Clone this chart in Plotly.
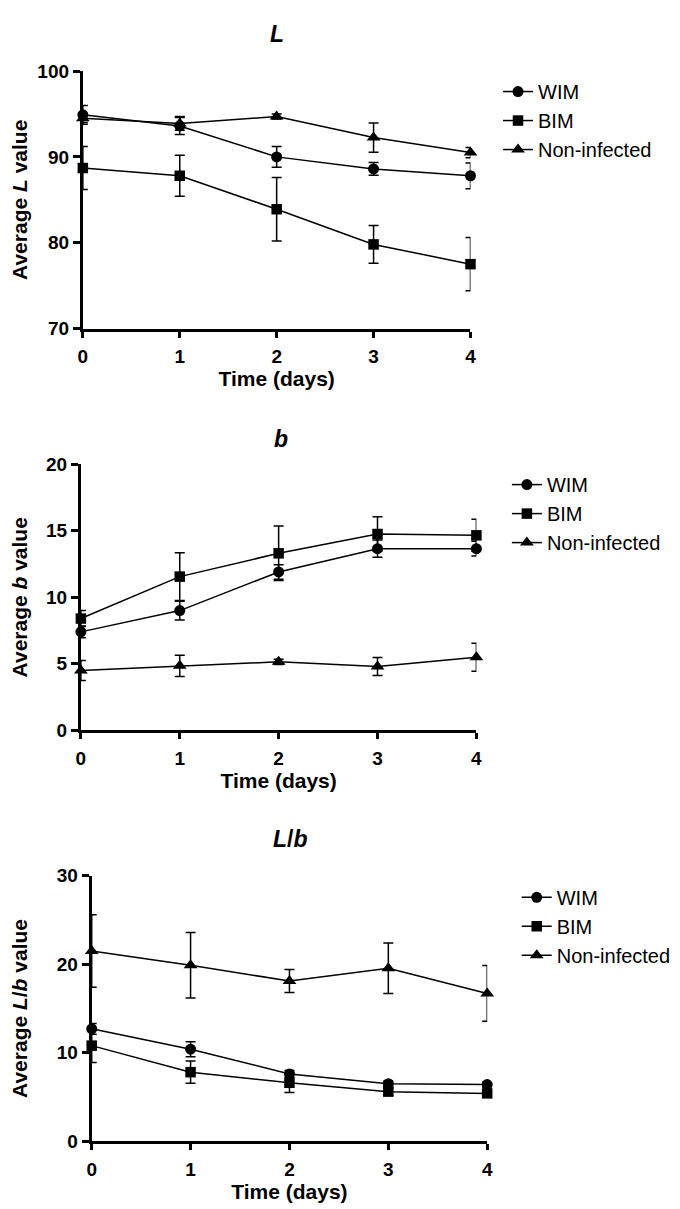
import plotly.graph_objects as go

days = [0, 1, 2, 3, 4]
series_names = ["WIM", "BIM", "Non-infected"]

# Panel 1: L
L_wim = [94.9, 93.6, 90.0, 88.6, 87.8]
L_wim_err = [1.1, 1.0, 1.2, 0.75, 1.5]
L_bim = [88.7, 87.8, 83.9, 79.8, 77.5]
L_bim_err = [2.5, 2.4, 3.7, 2.2, 3.1]
L_ni = [94.5, 93.9, 94.7, 92.25, 90.5]
L_ni_err = [0.5, 0.8, 0.3, 1.7, 0.6]

# Panel 2: b
b_wim = [7.4, 9.0, 11.9, 13.65, 13.65]
b_wim_err = [0.45, 0.7, 0.55, 0.65, 0.55]
b_bim = [8.4, 11.55, 13.3, 14.75, 14.65]
b_bim_err = [0.6, 1.8, 2.05, 1.3, 1.2]
b_ni = [4.5, 4.85, 5.15, 4.8, 5.5]
b_ni_err = [0.75, 0.8, 0.2, 0.68, 1.05]

# Panel 3: L/b
Lb_wim = [12.7, 10.4, 7.6, 6.5, 6.4]
Lb_wim_err = [0.6, 0.85, 0.4, 0.3, 0.3]
Lb_bim = [10.8, 7.8, 6.6, 5.6, 5.4]
Lb_bim_err = [1.9, 1.25, 1.1, 0.4, 0.4]
Lb_ni = [21.5, 19.9, 18.1, 19.55, 16.7]
Lb_ni_err = [4.1, 3.7, 1.3, 2.85, 3.15]

W, H = 680, 1209
FONT = "Liberation Sans, Arial, sans-serif"

panels = [
    dict(title="<b><i>L</i></b>", ytitle="<b>Average <i>L</i> value</b>",
         data=[(L_wim, L_wim_err), (L_bim, L_bim_err), (L_ni, L_ni_err)],
         yrange=[70, 100], dtick=10,
         px=(71, 465), py=(54, 316), title_xy=(268, 16),
         legend_xy=(493, 55), ystand=14),
    dict(title="<b><i>b</i></b>", ytitle="<b>Average <i>b</i> value</b>",
         data=[(b_wim, b_wim_err), (b_bim, b_bim_err), (b_ni, b_ni_err)],
         yrange=[0, 20], dtick=5,
         px=(69, 471), py=(454, 725), title_xy=(272, 428),
         legend_xy=(502, 455), ystand=16),
    dict(title="<b><i>L</i>/<i>b</i></b>", ytitle="<b>Average <i>L</i>/<i>b</i> value</b>",
         data=[(Lb_wim, Lb_wim_err), (Lb_bim, Lb_bim_err), (Lb_ni, Lb_ni_err)],
         yrange=[0, 30], dtick=10,
         px=(80, 482), py=(873, 1143), title_xy=(282, 836),
         legend_xy=(512, 875), ystand=24),
]

symbols = ["circle", "square", "triangle-up"]
sizes = [11, 10.5, 12]

fig = go.Figure()
annotations = []
layout = {}
for i, p in enumerate(panels):
    n = "" if i == 0 else str(i + 1)
    leg = "legend" if i == 0 else "legend" + str(i + 1)
    for j, (vals, errs) in enumerate(p["data"]):
        fig.add_trace(go.Scatter(
            x=days, y=vals, name=series_names[j], mode="lines+markers",
            xaxis="x" + n, yaxis="y" + n, legend=leg,
            line=dict(color="black", width=1.5),
            marker=dict(symbol=symbols[j], size=sizes[j], color="black"),
            error_y=dict(type="data", array=errs, visible=True, color="black",
                         thickness=1.5, width=5),
            cliponaxis=False,
        ))
    x0, x1 = p["px"]
    y0, y1 = p["py"]
    layout["xaxis" + n] = dict(
        domain=[x0 / W, x1 / W], range=[0, 4], anchor="y" + n,
        tickmode="array", tickvals=days, ticktext=[str(d) for d in days],
        showline=True, linecolor="black", linewidth=3, ticks="outside",
        ticklen=6, tickwidth=2.5, tickcolor="black", showgrid=False, zeroline=False,
        tickfont=dict(family=FONT, size=19, color="black", weight="bold"),
        ticklabelstandoff=3,
        title=dict(text="<b>Time (days)</b>", font=dict(family=FONT, size=21, color="black"),
                   standoff=5),
        fixedrange=True,
    )
    layout["yaxis" + n] = dict(
        domain=[1 - y1 / H, 1 - y0 / H], range=p["yrange"], anchor="x" + n,
        dtick=p["dtick"], tick0=0,
        showline=True, linecolor="black", linewidth=3, ticks="outside",
        ticklen=7, tickwidth=2.5, tickcolor="black", showgrid=False, zeroline=False,
        tickfont=dict(family=FONT, size=19, color="black", weight="bold"),
        title=dict(text=p["ytitle"], font=dict(family=FONT, size=21, color="black"),
                   standoff=p["ystand"]),
        fixedrange=True,
    )
    lx, ly = p["legend_xy"]
    layout[leg] = dict(
        x=lx / W, y=1 - ly / H, xanchor="left", yanchor="top",
        font=dict(family=FONT, size=20, color="black"),
        bgcolor="rgba(0,0,0,0)", borderwidth=0, itemwidth=30,
    )
    tx, ty = p["title_xy"]
    annotations.append(dict(
        text=p["title"], x=tx / W, y=1 - ty / H, xref="paper", yref="paper",
        xanchor="center", yanchor="middle", showarrow=False,
        font=dict(family=FONT, size=23, color="black"),
    ))

fig.update_layout(
    width=W, height=H, margin=dict(l=0, r=0, t=0, b=0),
    paper_bgcolor="white", plot_bgcolor="white",
    showlegend=True, annotations=annotations,
    font=dict(family=FONT, color="black"),
    **layout,
)

fig.write_html("out.html")
